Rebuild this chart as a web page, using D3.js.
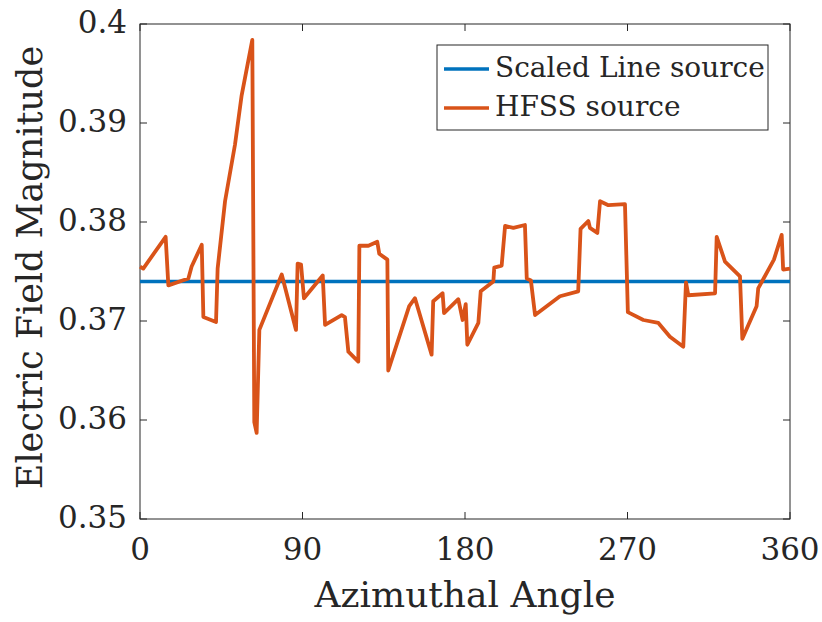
<!DOCTYPE html>
<html>
<head>
<meta charset="utf-8">
<script src="https://cdn.jsdelivr.net/npm/d3@7"></script>
<style>
  body { margin: 0; background: #fff; }
  svg { display: block; }
  svg text { font-family: "DejaVu Serif", "Liberation Serif", serif; }
</style>
</head>
<body>
<svg width="822" height="622"></svg>
<script>
// azimuthal angle (deg) of each HFSS sample
var angles = [0, 1.8, 14.2, 15.7, 26.8, 28.6, 34.2, 35.1, 42.1, 43.0, 47.1, 52.6, 56.3, 62.2, 63.3, 64.6,
  66.1, 78.5, 86.4, 87.3, 89.2, 90.8, 101.2, 102.5, 111.7, 113.5, 115.4, 120.9, 121.5, 126.5, 131.4, 132.5,
  137.0, 137.5, 149.1, 152.3, 161.5, 162.4, 167.6, 168.4, 176.3, 178.7, 180.4, 181.3, 187.4, 188.7, 195.7,
  196.2, 200.3, 202.2, 206.8, 213.2, 214.2, 216.5, 218.8, 232.6, 242.7, 244.0, 248.3, 249.2, 253.3, 254.8,
  259.4, 268.6, 270.2, 278.8, 287.1, 293.5, 300.9, 302.4, 303.7, 318.5, 319.4, 324.0, 332.3, 333.6, 341.5,
  342.4, 351.1, 355.4, 356.2, 360];

var hfssValues = [0.3755, 0.3753, 0.3785, 0.3736, 0.3743, 0.3755, 0.3777, 0.3704, 0.3699, 0.3753, 0.3821,
  0.3878, 0.3928, 0.3984, 0.3598, 0.3587, 0.3691, 0.3747, 0.3691, 0.3758, 0.3757, 0.3723, 0.3746, 0.3696,
  0.3706, 0.3704, 0.3669, 0.3659, 0.3776, 0.3776, 0.3780, 0.3768, 0.3762, 0.3650, 0.3715, 0.3723, 0.3666,
  0.3720, 0.3728, 0.3708, 0.3722, 0.3701, 0.3717, 0.3676, 0.3698, 0.3730, 0.3740, 0.3754, 0.3756, 0.3796,
  0.3794, 0.3797, 0.3743, 0.3741, 0.3706, 0.3725, 0.3730, 0.3793, 0.3801, 0.3794, 0.3789, 0.3821, 0.3817,
  0.3818, 0.3709, 0.3701, 0.3698, 0.3684, 0.3674, 0.3739, 0.3726, 0.3728, 0.3785, 0.3760, 0.3745, 0.3682,
  0.3715, 0.3733, 0.3762, 0.3787, 0.3752, 0.3753];

// scaled line source is flat
var lineAngles = [0, 360];
var lineValues = [0.374, 0.374];

var xTicks = [0, 90, 180, 270, 360];
var yTicks = [0.35, 0.36, 0.37, 0.38, 0.39, 0.4];
var seriesNames = ["Scaled Line source", "HFSS source"];
var seriesColors = ["#0072BD", "#D95319"];

var svg = d3.select("svg");
var margin = {top: 24, right: 32, bottom: 103, left: 140};
var width = +svg.attr("width") - margin.left - margin.right;
var height = +svg.attr("height") - margin.top - margin.bottom;
var g = svg.append("g").attr("transform", "translate(" + margin.left + "," + margin.top + ")");

var x = d3.scaleLinear().domain([0, 360]).range([0, width]);
var y = d3.scaleLinear().domain([0.35, 0.4]).range([height, 0]);

var axisColor = "#262626";
var tickLen = 7;

// box
g.append("rect")
  .attr("width", width)
  .attr("height", height)
  .attr("fill", "none")
  .attr("stroke", axisColor)
  .attr("stroke-width", 1);

// inward ticks on all four sides
xTicks.forEach(function(t) {
  g.append("line").attr("x1", x(t)).attr("x2", x(t)).attr("y1", height).attr("y2", height - tickLen)
    .attr("stroke", axisColor);
  g.append("line").attr("x1", x(t)).attr("x2", x(t)).attr("y1", 0).attr("y2", tickLen)
    .attr("stroke", axisColor);
  g.append("text")
    .attr("x", x(t))
    .attr("y", height + 32)
    .attr("text-anchor", "middle")
    .attr("dominant-baseline", "middle")
    .attr("fill", axisColor)
    .style("font-size", "31px")
    .text(t);
});

yTicks.forEach(function(t) {
  g.append("line").attr("x1", 0).attr("x2", tickLen).attr("y1", y(t)).attr("y2", y(t))
    .attr("stroke", axisColor);
  g.append("line").attr("x1", width).attr("x2", width - tickLen).attr("y1", y(t)).attr("y2", y(t))
    .attr("stroke", axisColor);
  g.append("text")
    .attr("x", -13)
    .attr("y", y(t))
    .attr("text-anchor", "end")
    .attr("dominant-baseline", "middle")
    .attr("fill", axisColor)
    .style("font-size", "31px")
    .text(+t.toFixed(2));
});

var line = d3.line()
  .x(function(d) { return x(d[0]); })
  .y(function(d) { return y(d[1]); });

g.append("path")
  .datum(d3.zip(lineAngles, lineValues))
  .attr("d", line)
  .attr("fill", "none")
  .attr("stroke", seriesColors[0])
  .attr("stroke-width", 3.5);

g.append("path")
  .datum(d3.zip(angles, hfssValues))
  .attr("d", line)
  .attr("fill", "none")
  .attr("stroke", seriesColors[1])
  .attr("stroke-width", 3.8)
  .attr("stroke-linejoin", "round");

// axis labels
svg.append("text")
  .attr("x", margin.left + width / 2)
  .attr("y", 598)
  .attr("text-anchor", "middle")
  .attr("dominant-baseline", "middle")
  .attr("fill", axisColor)
  .style("font-size", "36px")
  .text("Azimuthal Angle");

svg.append("text")
  .attr("transform", "translate(32," + (margin.top + height / 2 - 4) + ") rotate(-90)")
  .attr("text-anchor", "middle")
  .attr("dominant-baseline", "middle")
  .attr("fill", axisColor)
  .style("font-size", "35px")
  .text("Electric Field Magnitude");

// legend
var legend = svg.append("g").attr("transform", "translate(437,45)");
legend.append("rect")
  .attr("width", 331)
  .attr("height", 85)
  .attr("fill", "#fff")
  .attr("stroke", axisColor)
  .attr("stroke-width", 1);

seriesNames.forEach(function(name, i) {
  var ly = 24 + i * 39;
  legend.append("line")
    .attr("x1", 7).attr("x2", 52)
    .attr("y1", ly).attr("y2", ly)
    .attr("stroke", seriesColors[i])
    .attr("stroke-width", 3.5);
  legend.append("text")
    .attr("x", 58)
    .attr("y", ly)
    .attr("dominant-baseline", "middle")
    .attr("fill", axisColor)
    .style("font-size", "28px")
    .text(name);
});
</script>
</body>
</html>
